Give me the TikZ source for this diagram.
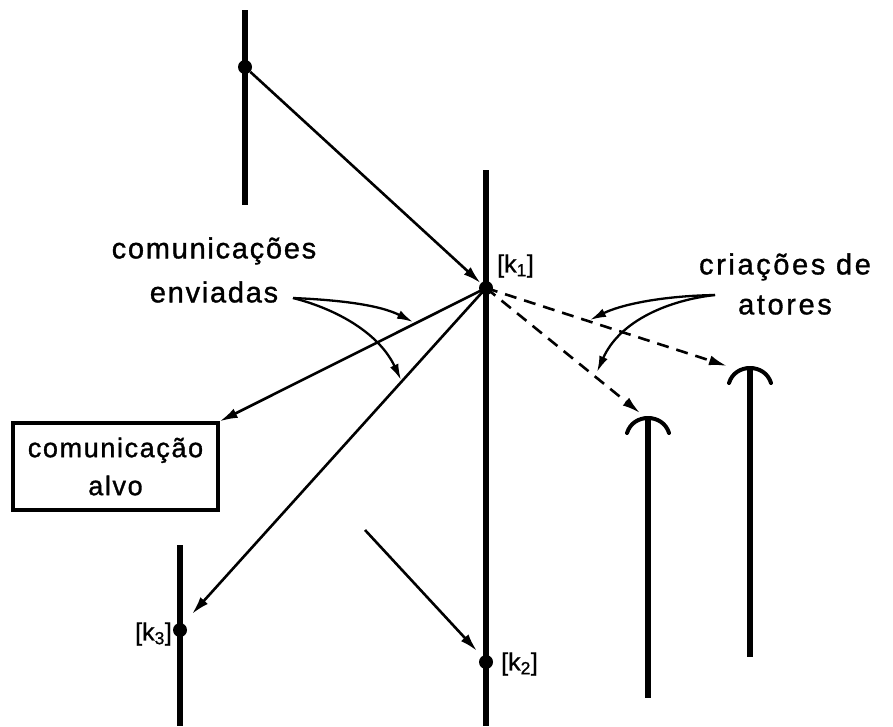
\documentclass[tikz,border=0pt]{standalone}
\usepackage{fontspec}
\setmainfont{Liberation Sans}
\usetikzlibrary{arrows.meta}
\newfontfamily\lblfont[LetterSpace=6,FakeBold=1.2]{Liberation Sans}
\newfontfamily\lblwidefont[LetterSpace=9,FakeBold=1.2]{Liberation Sans}
\newfontfamily\kfont[FakeBold=0.8]{Liberation Sans}
\begin{document}
\begin{tikzpicture}[x=1pt,y=-1pt,
  lifeline/.style={line width=5.5pt},
  msg/.style={line width=2.6pt,-{Latex[length=18pt,width=10pt]}},
  crt/.style={line width=2.6pt,dash pattern=on 12pt off 8pt,-{Latex[length=18pt,width=10pt]}},
  note/.style={line width=2.3pt,-{Latex[length=16pt,width=9pt]}},
  evdot/.style={circle,fill=black,inner sep=0pt,minimum size=14pt},
  bigtxt/.style={font=\fontsize{29}{44}\lblfont,align=center,inner sep=0pt},
  bigwide/.style={font=\fontsize{29}{40}\lblwidefont,align=center,inner sep=0pt},
  klbl/.style={font=\fontsize{25}{28}\kfont,inner sep=0pt},
  capline/.style={line width=4pt,line cap=round}]
\useasboundingbox (0,0) rectangle (893,726);
% lifelines
\draw[lifeline] (245,10) -- (245,205);
\draw[lifeline] (486,170) -- (486,726);
\draw[lifeline] (180,545) -- (180,726);
\draw[lifeline] (648,420) -- (648,698);
\draw[lifeline] (750,370) -- (750,657);
% creation caps
\draw[capline] (627,433) .. controls (633,413) and (663,413) .. (669,433);
\draw[capline] (729,383) .. controls (735,363) and (765,363) .. (771,383);
% events
\node[evdot] (e0) at (245,67) {};
\node[evdot] (k1) at (486,288) {};
\node[evdot] (k2) at (486,662) {};
\node[evdot] (k3) at (180,630) {};
\coordinate (c1) at (640,413);
\coordinate (c2) at (727,366);
\coordinate (t3) at (192,614);
\coordinate (fs) at (365,530);
\coordinate (f2) at (477,651);
% labels
\node[klbl,anchor=west] (lk1) at (497,266) {[k\textsubscript{1}]};
\node[klbl,anchor=west] (lk2) at (501,664) {[k\textsubscript{2}]};
\node[klbl,anchor=east] (lk3) at (172,634) {[k\textsubscript{3}]};
% box
\node[draw,line width=3.2pt,minimum width=205pt,minimum height=87pt,inner sep=0pt,
      font=\fontsize{27}{38}\lblfont,align=center] (box) at (115.5,466.5) {comunica\c{c}\~ao\\alvo};
% messages
\draw[msg] (e0) -- (k1);
\draw[msg] (k1.center) -- (box.north east);
\draw[msg] (k1.center) -- (t3);
\draw[msg] (fs) -- (f2);
\draw[crt] (k1.center) -- (c1);
\draw[crt] (k1.center) -- (c2);
% annotation texts
\node[bigtxt] (tsent) at (214,270) {comunica\c{c}\~oes\\enviadas};
\node[bigwide] (tcre) at (785,284) {cria\c{c}\~oes de\\atores};
% annotation pointers
\coordinate (ns) at (293,298);
\coordinate (nc) at (715,295);
\draw[note] (ns) .. controls (340,300) and (380,305) .. (413,322);
\draw[note] (ns) .. controls (340,310) and (380,335) .. (401,380);
\draw[note] (nc) .. controls (660,296) and (620,305) .. (590,320);
\draw[note] (nc) .. controls (670,300) and (620,320) .. (597,372);
\end{tikzpicture}
\end{document}
